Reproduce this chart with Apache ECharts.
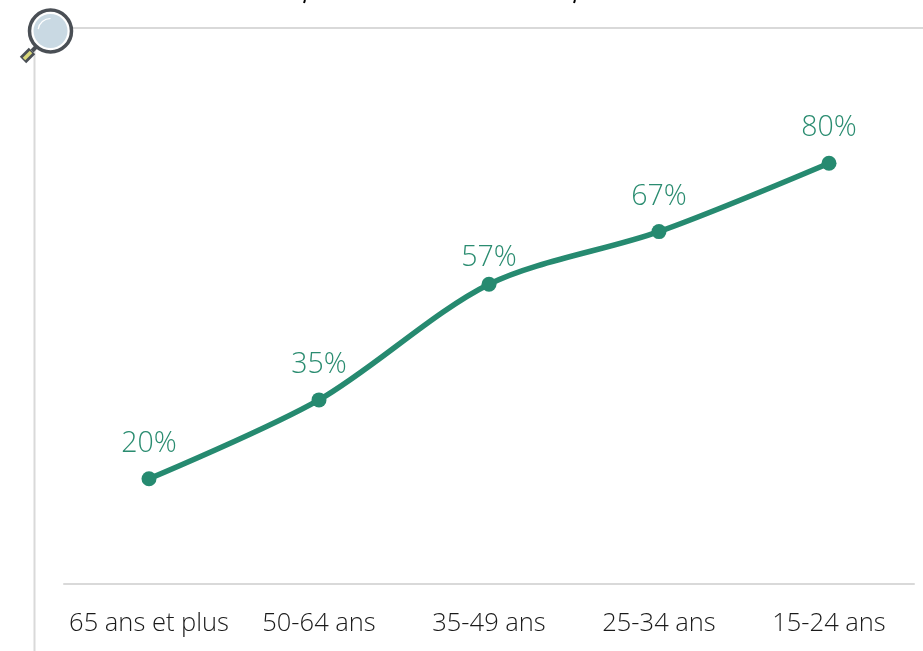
<!DOCTYPE html>
<html>
<head>
<meta charset="utf-8">
<script src="https://cdn.jsdelivr.net/npm/echarts@6/dist/echarts.min.js"></script>
<style>
html, body { margin: 0; padding: 0; background: #fff; }
#chart { width: 923px; height: 651px; }
</style>
</head>
<body>
<div id="chart"></div>
<script>
var ageGroups = ['65 ans et plus', '50-64 ans', '35-49 ans', '25-34 ans', '15-24 ans'];
var shares = [20, 35, 57, 67, 80];

var frameColor = '#d9d9d9';
var green = '#268a70';

var myChart = echarts.init(document.getElementById('chart'));
myChart.setOption({
    animation: false,
    grid: { left: 64, right: 9, top: 58, bottom: 67 },
    xAxis: {
        type: 'category',
        data: ageGroups,
        axisTick: { show: false },
        axisLine: { lineStyle: { color: frameColor, width: 2 } },
        axisLabel: {
            color: '#1a1a1a',
            fontFamily: 'Open Sans',
            fontWeight: 300,
            fontSize: 25.5,
            margin: 27,
            interval: 0
        }
    },
    yAxis: {
        type: 'value',
        min: 0,
        max: 100,
        show: false
    },
    series: [{
        type: 'line',
        // the 57% label sits closer to its point than the others
        data: shares.map(function (v, i) {
            return i === 2 ? { value: v, label: { distance: 4 } } : v;
        }),
        smooth: 0.3,
        symbol: 'circle',
        symbolSize: 15,
        lineStyle: { color: green, width: 5.5 },
        itemStyle: { color: green },
        label: {
            show: true,
            position: 'top',
            distance: 13,
            formatter: '{c}%',
            color: '#2a8c70',
            fontFamily: 'Open Sans',
            fontWeight: 300,
            fontSize: 28.5
        }
    }],
    graphic: [
        { type: 'line', shape: { x1: 34.5, y1: 45, x2: 34.5, y2: 651 }, style: { stroke: frameColor, lineWidth: 2 } },
        { type: 'line', shape: { x1: 70, y1: 28, x2: 923, y2: 28 }, style: { stroke: frameColor, lineWidth: 2 } },
        // cut off descenders of the title
        { type: 'line', shape: { x1: 305, y1: 0, x2: 304, y2: 3 }, style: { stroke: '#000', lineWidth: 2 } },
        { type: 'line', shape: { x1: 575, y1: 0, x2: 574, y2: 3 }, style: { stroke: '#000', lineWidth: 2 } },
        // magnifier icon
        { type: 'line', z: 5, shape: { x1: 23, y1: 60, x2: 32, y2: 51 }, style: { stroke: '#4a4f55', lineWidth: 9 } },
        { type: 'line', z: 6, shape: { x1: 24, y1: 59, x2: 31, y2: 52 }, style: { stroke: '#d9d87a', lineWidth: 3.5 } },
        { type: 'line', z: 5, shape: { x1: 32, y1: 51, x2: 37, y2: 46 }, style: { stroke: '#4a4f55', lineWidth: 4 } },
        { type: 'circle', z: 7, shape: { cx: 50.5, cy: 31, r: 21 }, style: { fill: '#fff', stroke: '#4a4f55', lineWidth: 3.5 } },
        { type: 'circle', z: 8, shape: { cx: 50.5, cy: 31, r: 17 }, style: { fill: '#c9d9e3' } },
        { type: 'arc', z: 9, shape: { cx: 50.5, cy: 31, r: 12.5, startAngle: Math.PI * 1.05, endAngle: Math.PI * 1.5 }, style: { stroke: '#fff', lineWidth: 1.2, fill: 'none' } }
    ]
});
</script>
</body>
</html>
